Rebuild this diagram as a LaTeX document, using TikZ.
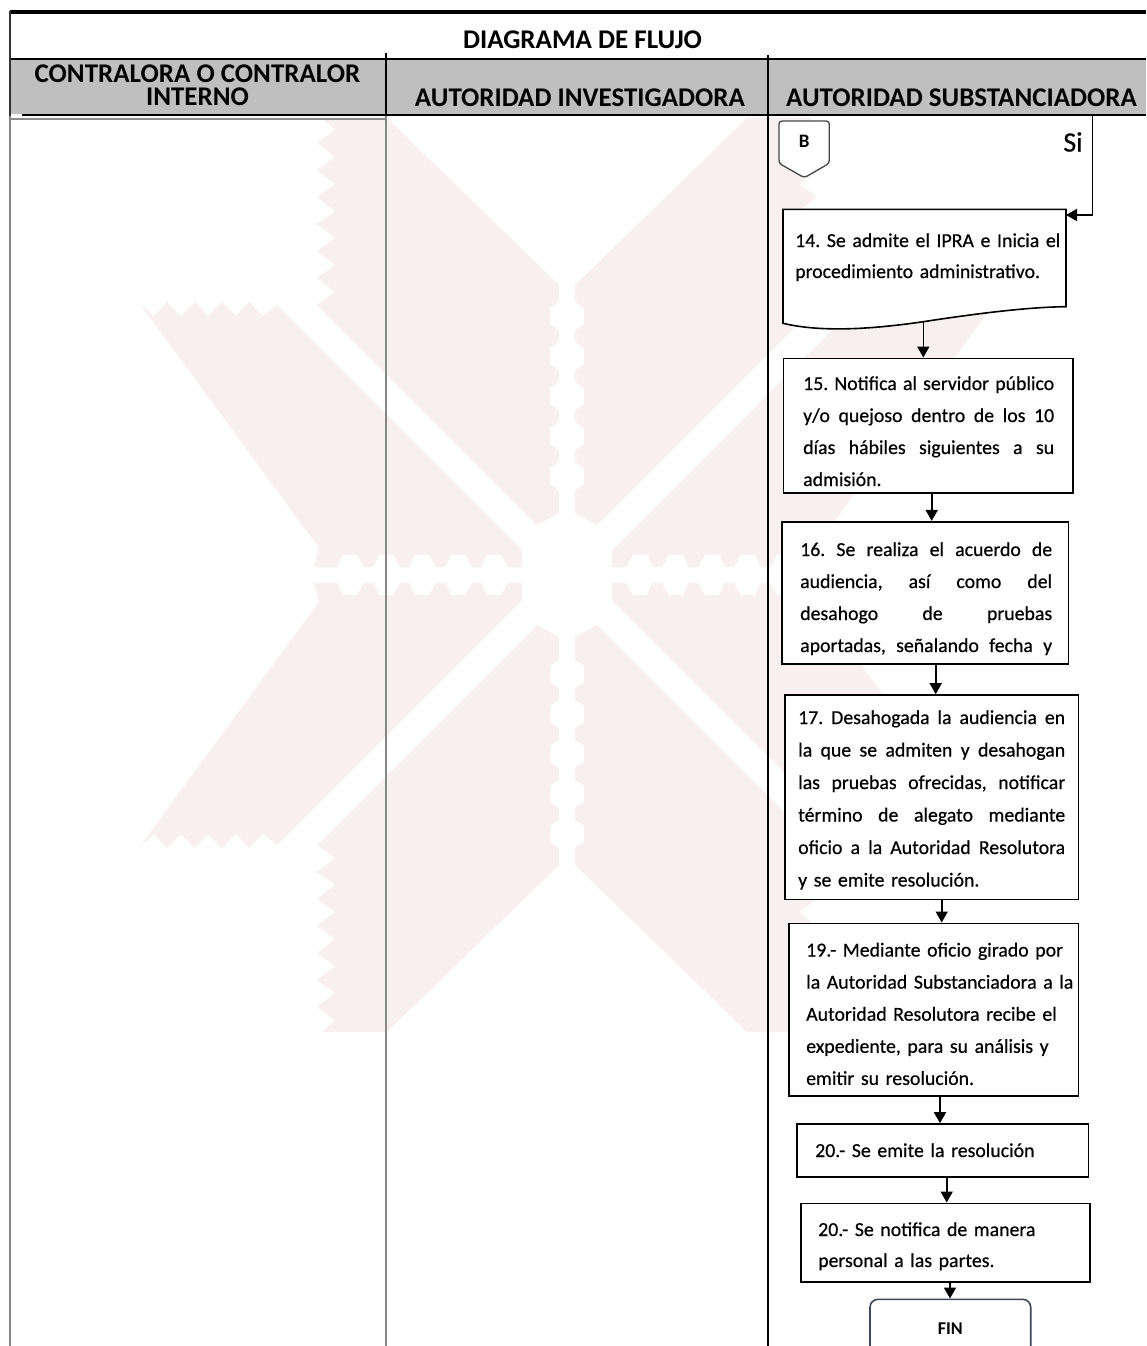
\documentclass[tikz,border=0pt]{standalone}
\usepackage{fontspec}
\setmainfont{Carlito}
\newfontfamily\bodyfont[FakeBold=0.5]{Carlito}
\usetikzlibrary{arrows.meta}
\definecolor{wm}{RGB}{248,239,240}
\definecolor{hdr}{RGB}{191,191,191}
\definecolor{lanegray}{RGB}{135,135,135}
\definecolor{finblue}{RGB}{60,70,92}
\definecolor{conngray}{RGB}{70,70,70}
\newcommand{\jline}[1]{\leavevmode\hbox to \linewidth{\spaceskip=0.226em plus 20em\relax\xspaceskip=\spaceskip #1}}
\frenchspacing
\begin{document}
\begin{tikzpicture}[x=1pt,y=-1pt,
  procbox/.style={draw=black, line width=1.6pt, fill=white, rectangle, inner sep=0pt},
  boxtext/.style={anchor=base west, inner sep=0pt, align=left},
  flow/.style={line width=1.6pt, -{Triangle[width=12pt,length=11pt]}},
  hdrtext/.style={font=\fontsize{27}{22.5}\selectfont\bfseries, inner sep=0pt, anchor=base},
]
\useasboundingbox (0,0) rectangle (1146,1346);
\begin{scope}
\clip (0,0) rectangle (1146,1346);
\fill[white] (0,0) rectangle (1146,1346);

% ---------- watermark ----------
\begin{scope}[shift={(567,575)}]
\foreach \sx/\sy in {1/1,-1/1,1/-1,-1/-1}{
  \begin{scope}[xscale=\sx,yscale=\sy]
    \fill[wm] (-253,-8) -- (-248,-27) -- (-427,-271) -- (-413,-259) -- (-400,-273) -- (-386,-259) -- (-372,-273) -- (-359,-259) -- (-345,-273) -- (-331,-259) -- (-318,-273) -- (-304,-259) -- (-290,-270) -- (-45,-25) -- (-45,-8) -- cycle;
    \fill[wm] (-30,-50) -- (-250,-270) -- (-232,-283) -- (-250,-297) -- (-232,-310) -- (-250,-324) -- (-232,-337) -- (-250,-351) -- (-232,-364) -- (-250,-378) -- (-232,-391) -- (-250,-405) -- (-232,-418) -- (-250,-432) -- (-232,-445) -- (-245,-457) -- (-180,-457) -- (-8,-290) -- (-8,-62) -- cycle;
    \foreach \c in {-258,-218,-178,-138,-98}{
      \fill[white] (0,\c-20) -- (17,\c-9) -- (17,\c+7) -- (0,\c+19) -- (-17,\c+7) -- (-17,\c-9) -- cycle;
    }
    \foreach \c in {-216,-180,-144,-108,-72}{
      \fill[white] (\c-17,0) -- (\c-8,-20) -- (\c+6,-20) -- (\c+17,0) -- (\c+6,20) -- (\c-8,20) -- cycle;
    }
  \end{scope}
}
\end{scope}

% ---------- header ----------
\fill[hdr] (11,60) rectangle (1146,114);
\draw[line width=3.3pt] (10,12) -- (1146,12);
\draw[line width=1.5pt] (10,59) -- (1146,59);
\draw[line width=2.5pt] (22,115) -- (1146,115);
\draw[black!45, line width=1.5pt] (11,119) -- (385,119);
\draw[black!80, line width=2pt] (10,11) -- (10,116);
\draw[lanegray, line width=2pt] (10,116) -- (10,1346);
\draw[black, line width=1.5pt] (386,53) -- (386,116);
\draw[lanegray, line width=1.8pt] (386,116) -- (386,1346);
\draw[black, line width=1.6pt] (768,55) -- (768,1346);

\node[hdrtext] (title) at (582.5,48.5) {DIAGRAMA DE FLUJO};
\node[hdrtext, align=center] (h1) at (197.5,105) {CONTRALORA O CONTRALOR\\INTERNO};
\node[hdrtext] (h2) at (580,106) {AUTORIDAD INVESTIGADORA};
\node[hdrtext, anchor=base west] (h3) at (786,106) {AUTORIDAD SUBSTANCIADORA};

% ---------- off-page connector B ----------
\draw[conngray, line width=1.3pt, rounded corners=3pt, fill=white] (779,121) -- (829.3,121) -- (829.3,163.3) -- (804.3,177.7) -- (779,163.3) -- cycle;
\node[font=\fontsize{19}{19}\selectfont\bfseries, inner sep=0pt] (B) at (804.3,141.7) {B};

\node[font=\fontsize{28}{28}\bodyfont, inner sep=0pt] (si) at (1073,142) {Si};

% ---------- box 14 (document) ----------
\draw[line width=1.6pt, fill=white] (783,209.3) -- (1066,209.3) -- (1066,306.7) .. controls (1030,307) and (980,313) .. (923.3,321.7) .. controls (860,331) and (815,331) .. (783,323.3) -- cycle;
\coordinate (b14east) at (1066,215);
\coordinate (b14bot) at (923.3,321.7);
\coordinate (siTop) at (1092.3,116);
\node[boxtext, text width=275pt, font=\fontsize{19.8}{31}\bodyfont] (t14) at (795,247)
  {14. Se admite el IPRA e Inicia el\\procedimiento administrativo.};

% ---------- process boxes ----------
\node[procbox, minimum width=289.4pt, minimum height=134.4pt] (b15) at (928,425.5) {};
\node[procbox, minimum width=286.6pt, minimum height=142.3pt] (b16) at (925,592.85) {};
\node[procbox, minimum width=293.3pt, minimum height=204.3pt] (b17) at (931.65,797.15) {};
\node[procbox, minimum width=289.3pt, minimum height=172.7pt] (b19) at (933.65,1009.65) {};
\node[procbox, minimum width=291.6pt, minimum height=52.7pt] (b20a) at (942.5,1150.35) {};
\node[procbox, minimum width=289pt, minimum height=78.4pt] (b20b) at (945.5,1242.5) {};
\node[draw=finblue, line width=1.6pt, fill=white, rounded corners=8pt, minimum width=160.7pt, minimum height=58pt, inner sep=0pt, font=\fontsize{18}{18}\selectfont\bfseries] (fin) at (950.35,1328.3) {FIN};

\node[boxtext, text width=251pt, font=\fontsize{19.8}{32}\bodyfont] (t15) at (803,390)
  {\jline{15. Notifica al servidor público}\\\jline{y/o quejoso dentro de los 10}\\\jline{días hábiles siguientes a su}\\admisión.};
\node[boxtext, text width=252pt, font=\fontsize{19.8}{32}\bodyfont] (t16) at (800,556)
  {\jline{16. Se realiza el acuerdo de}\\\jline{audiencia, así como del}\\\jline{desahogo de pruebas}\\\jline{aportadas, señalando fecha y}};
\node[boxtext, text width=267pt, font=\fontsize{19.8}{32.5}\bodyfont] (t17) at (798,724)
  {\jline{17. Desahogada la audiencia en}\\\jline{la que se admiten y desahogan}\\\jline{las pruebas ofrecidas, notificar}\\\jline{término de alegato mediante}\\\jline{oficio a la Autoridad Resolutora}\\y se emite resolución.};
\node[boxtext, text width=285pt, font=\fontsize{19.8}{32.1}\bodyfont] (t19) at (806,956.5)
  {19.- Mediante oficio girado por\\la Autoridad Substanciadora a la\\Autoridad Resolutora recibe el\\expediente, para su análisis y\\emitir su resolución.};
\node[boxtext, text width=265pt, font=\fontsize{19.8}{31}\bodyfont] (t20a) at (815,1157)
  {20.- Se emite la resolución};
\node[boxtext, text width=265pt, font=\fontsize{19.8}{31}\bodyfont] (t20b) at (818,1236)
  {20.- Se notifica de manera\\personal a las partes.};

% ---------- connectors ----------
\coordinate (x15) at (923.3,0);
\coordinate (x16) at (931.7,0);
\coordinate (x17) at (935.7,0);
\coordinate (x19) at (941.7,0);
\coordinate (x20a) at (940,0);
\coordinate (x20b) at (946.7,0);
\coordinate (xfin) at (950,0);
\draw[flow] (siTop) |- (b14east);
\draw[flow] (b14bot) -- (b15.north -| x15);
\draw[flow] (b15.south -| x16) -- (b16.north -| x16);
\draw[flow] (b16.south -| x17) -- (b17.north -| x17);
\draw[flow] (b17.south -| x19) -- (b19.north -| x19);
\draw[flow] (b19.south -| x20a) -- (b20a.north -| x20a);
\draw[flow] (b20a.south -| x20b) -- (b20b.north -| x20b);
\draw[flow] (b20b.south -| xfin) -- (fin.north -| xfin);
\end{scope}
\end{tikzpicture}
\end{document}
